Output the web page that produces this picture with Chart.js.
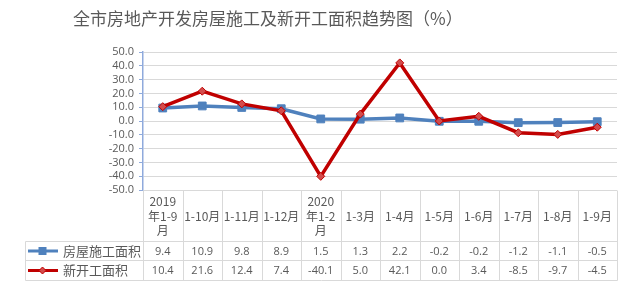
<!DOCTYPE html>
<html>
<head>
<meta charset="utf-8">
<script src="https://cdn.jsdelivr.net/npm/chart.js@4/dist/chart.umd.min.js"></script>
<style>
  body { margin: 0; background: #fff; }
  #wrap { width: 626px; height: 286px; position: relative; }
</style>
</head>
<body>
<div id="wrap"><canvas id="chart" width="626" height="286"></canvas></div>
<script>
// data
const categories = [['2019', '年1-9', '月'], '1-10月', '1-11月', '1-12月', ['2020', '年1-2', '月'],
  '1-3月', '1-4月', '1-5月', '1-6月', '1-7月', '1-8月', '1-9月'];
const seriesNames = ['房屋施工面积', '新开工面积'];
const underConstruction = [9.4, 10.9, 9.8, 8.9, 1.5, 1.3, 2.2, -0.2, -0.2, -1.2, -1.1, -0.5];
const newStarts = [10.4, 21.6, 12.4, 7.4, -40.1, 5.0, 42.1, 0.0, 3.4, -8.5, -9.7, -4.5];
const yTicks = [50, 40, 30, 20, 10, 0, -10, -20, -30, -40, -50];
const title = '全市房地产开发房屋施工及新开工面积趋势图（%）';

const BLUE = '#4f81bd';
const RED = '#c00000';
const TEXT = '#595959';
const GRID = '#d9d9d9';

// title + data table under the plot
const tablePlugin = {
  id: 'dataTable',
  afterDraw(chart) {
    const { ctx, chartArea: a } = chart;
    const x = chart.scales.x;
    const n = categories.length;
    const colW = (a.right - a.left) / n;
    const top = Math.round(a.bottom) + 0.5;
    const r1 = 241.5, r2 = 260.5, r3 = 280.5, legL = 25.5;
    const right = Math.round(a.right) + 0.5;

    ctx.save();
    // title
    ctx.fillStyle = TEXT;
    ctx.font = '17px "Noto Sans CJK SC"';
    ctx.textAlign = 'left';
    ctx.textBaseline = 'middle';
    ctx.fillText(title, 73, 19);

    // grid of the table
    ctx.strokeStyle = GRID;
    ctx.lineWidth = 1;
    ctx.beginPath();
    [r1, r2, r3].forEach(yy => { ctx.moveTo(legL, yy); ctx.lineTo(right, yy); });
    ctx.moveTo(legL, r1); ctx.lineTo(legL, r3);
    for (let i = 1; i <= n; i++) {
      const xx = Math.round(a.left + i * colW) + 0.5;
      ctx.moveTo(xx, top); ctx.lineTo(xx, r3);
    }
    ctx.stroke();
    ctx.beginPath();
    const x0 = Math.round(a.left) + 0.5;
    ctx.moveTo(x0, top); ctx.lineTo(x0, r3);
    ctx.stroke();

    // header
    ctx.textAlign = 'center';
    ctx.font = '12px "Noto Sans CJK SC"';
    const mid = (top + r1) / 2;
    categories.forEach((c, i) => {
      const cx = x.getPixelForValue(i);
      const lines = Array.isArray(c) ? c : [c];
      lines.forEach((t, j) => {
        ctx.fillText(t, cx, mid + (j - (lines.length - 1) / 2) * 14.5);
      });
    });

    // values
    ctx.font = '11px "Open Sans"';
    const rows = [underConstruction, newStarts];
    const rowMid = [(r1 + r2) / 2, (r2 + r3) / 2];
    rows.forEach((vals, k) => {
      vals.forEach((v, i) => {
        ctx.fillText(v.toFixed(1), x.getPixelForValue(i), rowMid[k] + 0.5);
      });
    });

    // legend keys
    const colors = [BLUE, RED];
    rows.forEach((vals, k) => {
      const yy = rowMid[k];
      ctx.strokeStyle = colors[k];
      ctx.lineWidth = 3;
      ctx.beginPath();
      ctx.moveTo(28, yy); ctx.lineTo(58, yy);
      ctx.stroke();
      ctx.fillStyle = colors[k];
      if (k === 0) {
        ctx.fillRect(38.5, yy - 4, 8, 8);
      } else {
        ctx.fillStyle = '#d34c4c';
        ctx.strokeStyle = RED;
        ctx.lineWidth = 1;
        ctx.beginPath();
        ctx.moveTo(42.5, yy - 3.5); ctx.lineTo(46, yy); ctx.lineTo(42.5, yy + 3.5); ctx.lineTo(39, yy);
        ctx.closePath();
        ctx.fill(); ctx.stroke();
      }
      ctx.fillStyle = TEXT;
      ctx.textAlign = 'left';
      ctx.font = '13px "Noto Sans CJK SC"';
      ctx.fillText(seriesNames[k], 63, yy);
    });
    ctx.restore();
  }
};

new Chart(document.getElementById('chart'), {
  type: 'line',
  data: {
    labels: categories.map(c => Array.isArray(c) ? c.join('') : c),
    datasets: [
      {
        label: seriesNames[0],
        data: underConstruction,
        borderColor: BLUE,
        backgroundColor: BLUE,
        borderWidth: 3.5,
        pointStyle: 'rect',
        pointRadius: 5.5,
        pointBorderWidth: 1,
        pointBorderColor: BLUE,
        tension: 0,
        order: 1
      },
      {
        label: seriesNames[1],
        data: newStarts,
        borderColor: RED,
        backgroundColor: '#d34c4c',
        borderWidth: 3.5,
        pointStyle: 'rectRot',
        pointRadius: 4,
        pointBorderWidth: 1,
        pointBorderColor: RED,
        tension: 0,
        order: 0
      }
    ]
  },
  options: {
    responsive: false,
    animation: false,
    layout: { padding: { left: 0, right: 9, top: 52, bottom: 96 } },
    plugins: {
      legend: { display: false },
      title: { display: false },
      tooltip: { enabled: false }
    },
    scales: {
      x: {
        display: false,
        offset: true
      },
      y: {
        min: -50,
        max: 50,
        afterBuildTicks: s => { s.ticks = yTicks.map(v => ({ value: v })); },
        afterFit: s => { s.width = 143; },
        border: { color: '#8faadc', width: 1.5 },
        grid: { color: GRID, tickColor: '#8faadc', tickLength: 4 },
        ticks: {
          color: TEXT,
          padding: 5,
          autoSkip: false,
          font: { family: 'Open Sans', size: 11 },
          callback: v => v.toFixed(1)
        }
      }
    }
  },
  plugins: [tablePlugin]
});
</script>
</body>
</html>
